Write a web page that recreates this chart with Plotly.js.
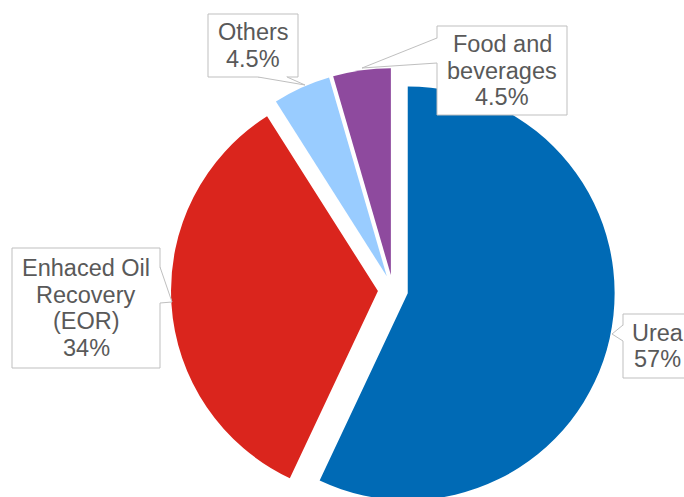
<!DOCTYPE html>
<html>
<head>
<meta charset="utf-8">
<script src="https://cdn.plot.ly/plotly-3.0.1.min.js"></script>
<style>
html,body{margin:0;padding:0;overflow:hidden;background:#fff;}
#chart{width:684px;height:520px;}
</style>
</head>
<body>
<div id="chart"></div>
<script>
// ---- data ----
var categories = ["Urea", "Enhaced Oil Recovery (EOR)", "Others", "Food and beverages"];
var labelLines = [["Urea"], ["Enhaced Oil", "Recovery", "(EOR)"], ["Others"], ["Food and", "beverages"]];
var values = [57, 34, 4.5, 4.5];
var valueLabels = ["57%", "34%", "4.5%", "4.5%"];
var colors = ["#006AB5", "#DA251D", "#99CCFF", "#8E4A9E"];

// ---- layout geometry (pixels) ----
var W = 684, H = 520;
var M = {l: 171, r: 69, t: 68, b: 8};
var PW = W - M.l - M.r, PH = H - M.t - M.b;
function px(x) { return (x - M.l) / PW; }
function py(y) { return (H - M.b - y) / PH; }

var FONT = {family: 'Liberation Sans, Arial, sans-serif', size: 23.5, color: '#595959'};
var LINE = 26.5;

// label boxes: [left, top, right, bottom]
var boxes = [
  [623, 314, 692, 378],
  [12, 248, 160, 368],
  [208, 14, 298, 77],
  [437, 26, 567, 115]
];
// callout wedges: base1, tip, base2
var wedges = [
  [[623, 325], [612, 334], [623, 341]],
  [[160, 267], [172, 302], [160, 303]],
  [[258, 77], [305, 85], [287, 77]],
  [[437, 38], [362, 68], [437, 63]]
];

function P(p) { return px(p[0]) + ',' + py(p[1]); }

var shapes = [];
boxes.forEach(function (b) {
  shapes.push({
    type: 'rect', xref: 'paper', yref: 'paper', layer: 'above',
    x0: px(b[0]), x1: px(b[2]), y0: py(b[3]), y1: py(b[1]),
    fillcolor: '#FFFFFF', line: {color: '#BFBFBF', width: 1}
  });
});
wedges.forEach(function (w, i) {
  var b = boxes[i];
  var c = [(b[0] + b[2]) / 2, (b[1] + b[3]) / 2];
  shapes.push({
    type: 'path', xref: 'paper', yref: 'paper', layer: 'above',
    path: 'M' + P(w[0]) + ' L' + P(w[1]) + ' L' + P(w[2]) + ' L' + P(c) + ' Z',
    fillcolor: '#FFFFFF', line: {width: 0}
  });
  shapes.push({
    type: 'path', xref: 'paper', yref: 'paper', layer: 'above',
    path: 'M' + P(w[0]) + ' L' + P(w[1]) + ' L' + P(w[2]),
    line: {color: '#BFBFBF', width: 1}
  });
});

var annotations = [];
categories.forEach(function (c, i) {
  var b = boxes[i];
  var lines = labelLines[i].concat([valueLabels[i]]);
  var cx = (b[0] + b[2]) / 2, cy = (b[1] + b[3]) / 2;
  lines.forEach(function (t, j) {
    annotations.push({
      xref: 'paper', yref: 'paper',
      x: px(cx), y: py(cy + (j - (lines.length - 1) / 2) * LINE),
      xanchor: 'center', yanchor: 'middle',
      text: t, showarrow: false,
      font: FONT
    });
  });
});

var trace = {
  type: 'pie',
  labels: categories,
  values: values,
  sort: false,
  direction: 'clockwise',
  rotation: 0,
  pull: [0.073, 0.073, 0.073, 0.073],
  marker: {colors: colors, line: {width: 0}},
  textinfo: 'none',
  hoverinfo: 'skip',
  showlegend: false,
  domain: {x: [0, 1], y: [0, 1]}
};

Plotly.newPlot('chart', [trace], {
  width: W, height: H,
  margin: M,
  paper_bgcolor: '#FFFFFF',
  showlegend: false,
  annotations: annotations,
  shapes: shapes
}, {staticPlot: true});
</script>
</body>
</html>
